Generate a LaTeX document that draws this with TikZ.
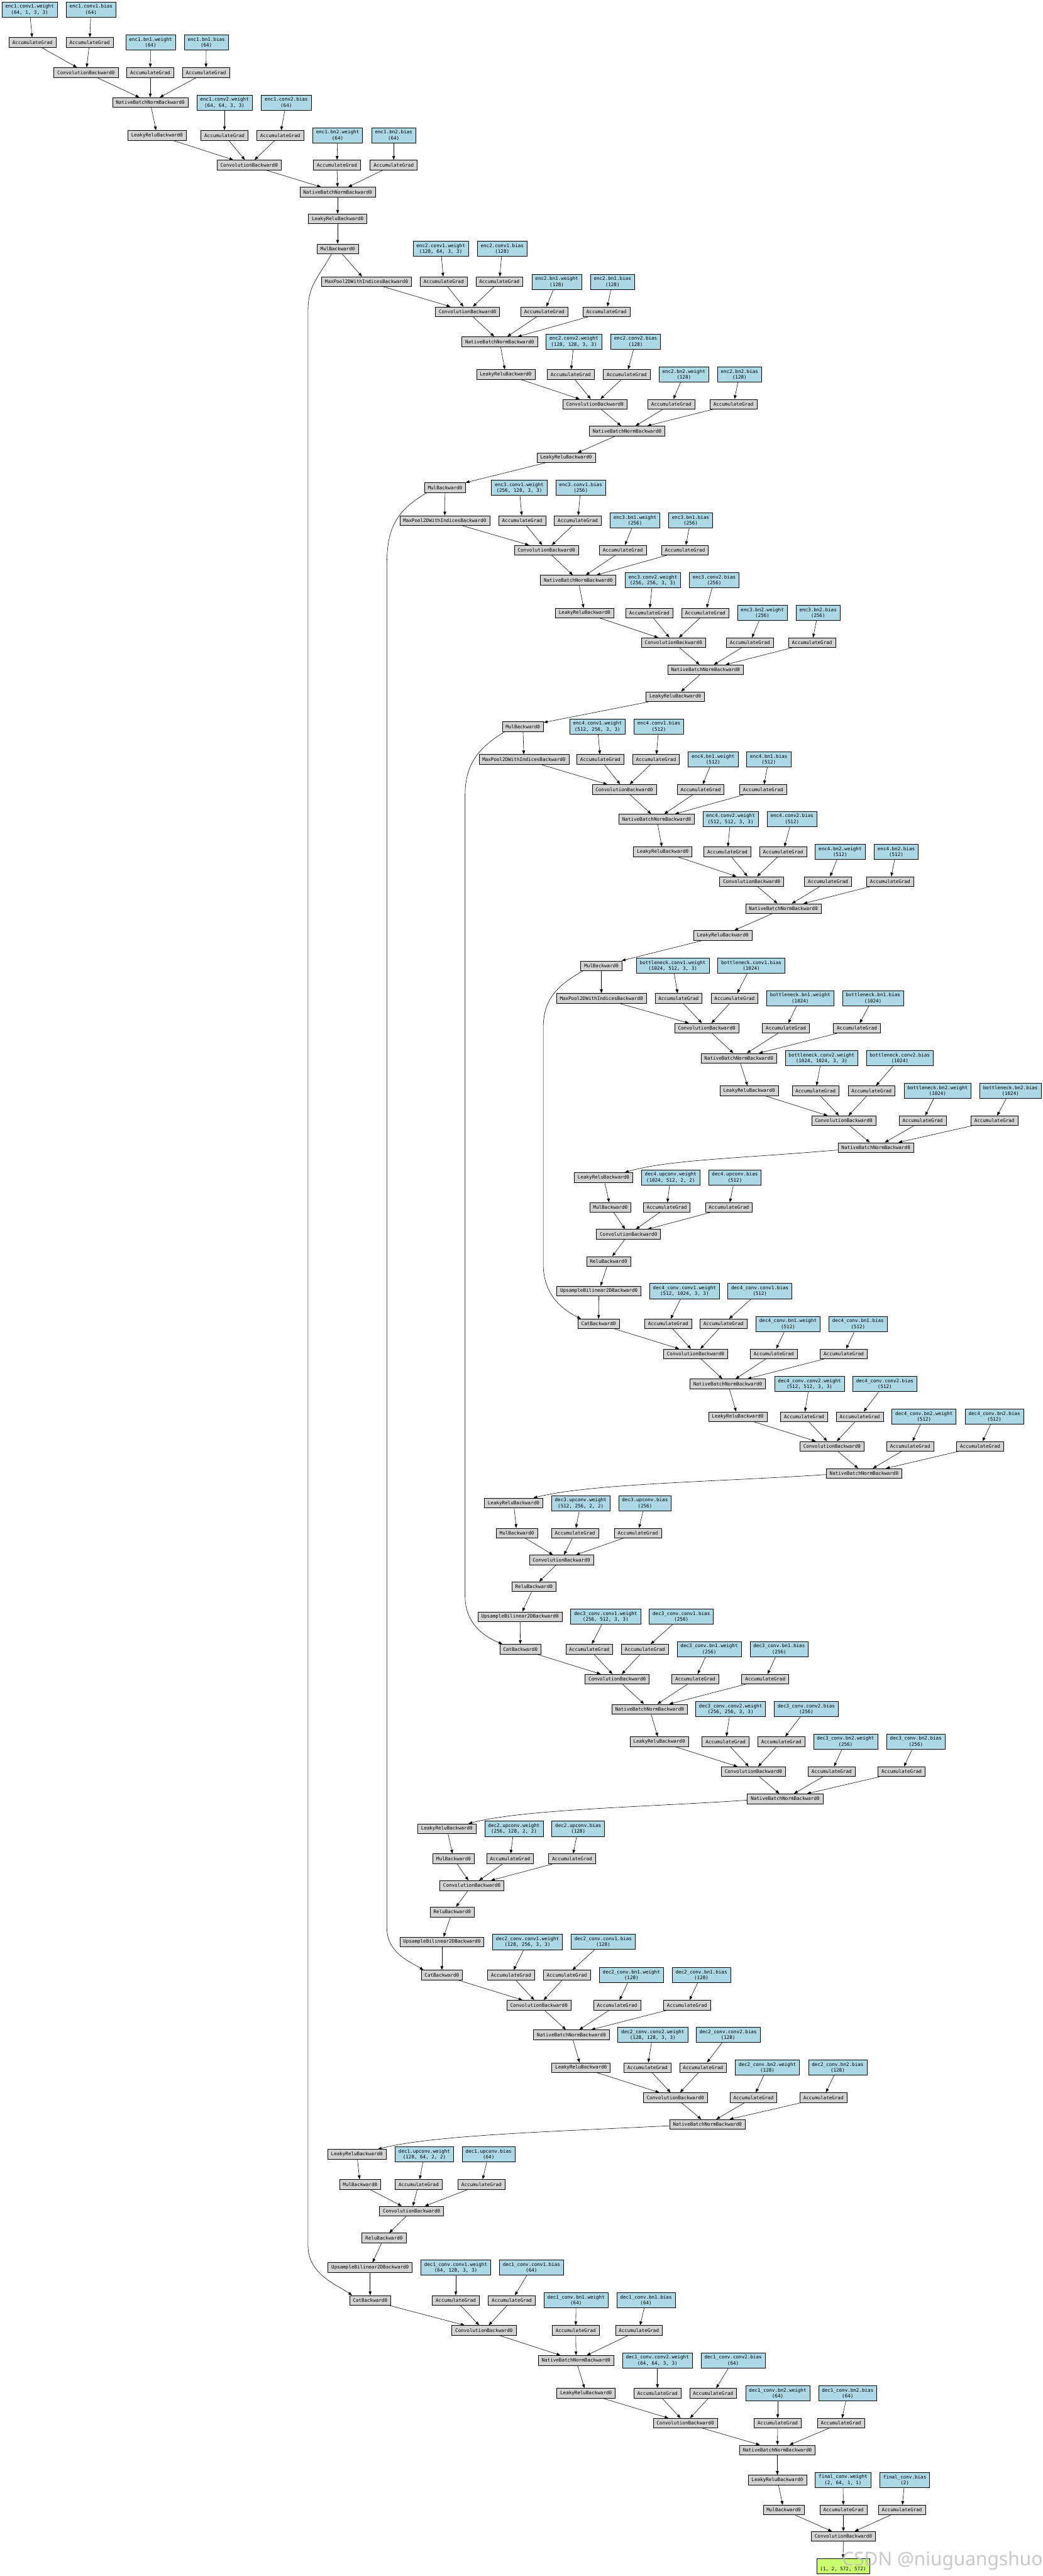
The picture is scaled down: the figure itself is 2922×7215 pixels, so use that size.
\documentclass[tikz,border=0pt]{standalone}
\usepackage{fontspec}
\usetikzlibrary{arrows.meta,calc}
\newfontfamily\gvmono{DejaVu Sans Mono}
\newfontfamily\wmfont{Noto Sans}
\definecolor{parblue}{HTML}{ADD8E6}
\definecolor{opgrey}{HTML}{D3D3D3}
\definecolor{outgreen}{HTML}{CAFF70}
\newcommand{\mkop}[3]{\node[opbox] (#1) at (#2) {#3};}
\newcommand{\mkag}[2]{\node[opbox] (#1) at (#2) {AccumulateGrad};}
\newcommand{\mkpar}[4]{\node[parbox] (#1) at (#2) {#3\\(#4)};}
\tikzset{
  gvbox/.style={draw=black, line width=0.9pt, font=\gvmono\fontsize{10}{12.5}\selectfont, inner xsep=7.2pt, inner ysep=5.2pt, minimum height=20.5pt, align=center},
  opbox/.style={gvbox, fill=opgrey},
  parbox/.style={gvbox, fill=parblue},
  outbox/.style={gvbox, fill=outgreen},
  conn/.style={line width=0.75pt, -{Triangle[length=8pt,width=6pt]}},
}
\begin{document}
\begin{tikzpicture}[x=0.75pt,y=-0.75pt]
\fill[white] (0,0) rectangle (2922,7215);
\useasboundingbox (0,0) rectangle (2922,7215);
% ---------------- enc1
\mkpar{e1w1}{83,27}{enc1.conv1.weight}{64, 1, 3, 3}
\mkpar{e1b1}{255,27}{enc1.conv1.bias}{64}
\mkag{e1aw1}{91,119}
\mkag{e1ab1}{251,119}
\mkpar{e1bn1w}{422,119}{enc1.bn1.weight}{64}
\mkpar{e1bn1b}{578,119}{enc1.bn1.bias}{64}
\mkop{e1c1}{241,203}{ConvolutionBackward0}
\mkag{e1abn1w}{421,203}
\mkag{e1abn1b}{577,203}
\mkop{e1n1}{421,287}{NativeBatchNormBackward0}
\mkpar{e1w2}{629,287}{enc1.conv2.weight}{64, 64, 3, 3}
\mkpar{e1b2}{802,287}{enc1.conv2.bias}{64}
\mkop{e1l1}{440,379}{LeakyReluBackward0}
\mkag{e1aw2}{629,379}
\mkag{e1ab2}{785,379}
\mkpar{e1bn2w}{946,379}{enc1.bn2.weight}{64}
\mkpar{e1bn2b}{1103,379}{enc1.bn2.bias}{64}
\mkop{e1c2}{698,462}{ConvolutionBackward0}
\mkag{e1abn2w}{944,462}
\mkag{e1abn2b}{1103,462}
\mkop{e1n2}{946,538}{NativeBatchNormBackward0}
\mkop{e1l2}{946,613}{LeakyReluBackward0}
\mkop{e1m}{946,697}{MulBackward0}
% ---------------- enc2
\mkpar{e2w1}{1235,697}{enc2.conv1.weight}{128, 64, 3, 3}
\mkpar{e2b1}{1407,697}{enc2.conv1.bias}{128}
\mkop{e2p}{1027,789}{MaxPool2DWithIndicesBackward0}
\mkag{e2aw1}{1243,789}
\mkag{e2ab1}{1399,789}
\mkpar{e2bn1w}{1560,789}{enc2.bn1.weight}{128}
\mkpar{e2bn1b}{1716,789}{enc2.bn1.bias}{128}
\mkop{e2c1}{1310,873}{ConvolutionBackward0}
\mkag{e2abn1w}{1525,873}
\mkag{e2abn1b}{1699,873}
\mkop{e2n1}{1400,957}{NativeBatchNormBackward0}
\mkpar{e2w2}{1608,957}{enc2.conv2.weight}{128, 128, 3, 3}
\mkpar{e2b2}{1781,957}{enc2.conv2.bias}{128}
\mkop{e2l1}{1417,1049}{LeakyReluBackward0}
\mkag{e2aw2}{1599,1049}
\mkag{e2ab2}{1756,1049}
\mkpar{e2bn2w}{1916,1049}{enc2.bn2.weight}{128}
\mkpar{e2bn2b}{2072,1049}{enc2.bn2.bias}{128}
\mkop{e2c2}{1667,1132}{ConvolutionBackward0}
\mkag{e2abn2w}{1881,1132}
\mkag{e2abn2b}{2055,1132}
\mkop{e2n2}{1757,1207}{NativeBatchNormBackward0}
\mkop{e2l2}{1586,1282}{LeakyReluBackward0}
\mkop{e2m}{1247,1366}{MulBackward0}
% ---------------- enc3
\mkpar{e3w1}{1455,1366}{enc3.conv1.weight}{256, 128, 3, 3}
\mkpar{e3b1}{1627,1366}{enc3.conv1.bias}{256}
\mkop{e3p}{1246,1458}{MaxPool2DWithIndicesBackward0}
\mkag{e3aw1}{1463,1458}
\mkag{e3ab1}{1619,1458}
\mkpar{e3bn1w}{1779,1458}{enc3.bn1.weight}{256}
\mkpar{e3bn1b}{1935,1458}{enc3.bn1.bias}{256}
\mkop{e3c1}{1531,1541}{ConvolutionBackward0}
\mkag{e3abn1w}{1745,1541}
\mkag{e3abn1b}{1919,1541}
\mkop{e3n1}{1620,1625}{NativeBatchNormBackward0}
\mkpar{e3w2}{1829,1625}{enc3.conv2.weight}{256, 256, 3, 3}
\mkpar{e3b2}{2001,1625}{enc3.conv2.bias}{256}
\mkop{e3l1}{1638,1717}{LeakyReluBackward0}
\mkag{e3aw2}{1819,1717}
\mkag{e3ab2}{1976,1717}
\mkpar{e3bn2w}{2136,1717}{enc3.bn2.weight}{256}
\mkpar{e3bn2b}{2292,1717}{enc3.bn2.bias}{256}
\mkop{e3c2}{1887,1800}{ConvolutionBackward0}
\mkag{e3abn2w}{2101,1800}
\mkag{e3abn2b}{2275,1800}
\mkop{e3n2}{1977,1876}{NativeBatchNormBackward0}
\mkop{e3l2}{1892,1951}{LeakyReluBackward0}
\mkop{e3m}{1465,2035}{MulBackward0}
% ---------------- enc4
\mkpar{e4w1}{1674,2035}{enc4.conv1.weight}{512, 256, 3, 3}
\mkpar{e4b1}{1846,2035}{enc4.conv1.bias}{512}
\mkop{e4p}{1468,2127}{MaxPool2DWithIndicesBackward0}
\mkag{e4aw1}{1682,2127}
\mkag{e4ab1}{1838,2127}
\mkpar{e4bn1w}{1998,2127}{enc4.bn1.weight}{512}
\mkpar{e4bn1b}{2154,2127}{enc4.bn1.bias}{512}
\mkop{e4c1}{1749,2211}{ConvolutionBackward0}
\mkag{e4abn1w}{1963,2211}
\mkag{e4abn1b}{2138,2211}
\mkop{e4n1}{1840,2294}{NativeBatchNormBackward0}
\mkpar{e4w2}{2047,2294}{enc4.conv2.weight}{512, 512, 3, 3}
\mkpar{e4b2}{2219,2294}{enc4.conv2.bias}{512}
\mkop{e4l1}{1857,2386}{LeakyReluBackward0}
\mkag{e4aw2}{2038,2386}
\mkag{e4ab2}{2194,2386}
\mkpar{e4bn2w}{2354,2386}{enc4.bn2.weight}{512}
\mkpar{e4bn2b}{2511,2386}{enc4.bn2.bias}{512}
\mkop{e4c2}{2106,2469}{ConvolutionBackward0}
\mkag{e4abn2w}{2320,2469}
\mkag{e4abn2b}{2494,2469}
\mkop{e4n2}{2195,2545}{NativeBatchNormBackward0}
\mkop{e4l2}{2025,2620}{LeakyReluBackward0}
\mkop{e4m}{1685,2705}{MulBackward0}
% ---------------- bottleneck
\mkpar{bw1}{1885,2705}{bottleneck.conv1.weight}{1024, 512, 3, 3}
\mkpar{bb1}{2105,2705}{bottleneck.conv1.bias}{1024}
\mkop{bp}{1685,2796}{MaxPool2DWithIndicesBackward0}
\mkag{baw1}{1901,2796}
\mkag{bab1}{2058,2796}
\mkpar{bbn1w}{2242,2796}{bottleneck.bn1.weight}{1024}
\mkpar{bbn1b}{2446,2796}{bottleneck.bn1.bias}{1024}
\mkop{bc1}{1980,2880}{ConvolutionBackward0}
\mkag{babn1w}{2202,2880}
\mkag{babn1b}{2401,2880}
\mkop{bn1}{2070,2964}{NativeBatchNormBackward0}
\mkpar{bw2}{2302,2964}{bottleneck.conv2.weight}{1024, 1024, 3, 3}
\mkpar{bb2}{2521,2964}{bottleneck.conv2.bias}{1024}
\mkop{bl1}{2099,3055}{LeakyReluBackward0}
\mkag{baw2}{2285,3055}
\mkag{bab2}{2442,3055}
\mkpar{bbn2w}{2627,3055}{bottleneck.bn2.weight}{1024}
\mkpar{bbn2b}{2831,3055}{bottleneck.bn2.bias}{1024}
\mkop{bc2}{2364,3139}{ConvolutionBackward0}
\mkag{babn2w}{2585,3139}
\mkag{babn2b}{2786,3139}
\mkop{bn2}{2454,3214}{NativeBatchNormBackward0}
% ---------------- dec4
\mkop{d4l}{1691,3298}{LeakyReluBackward0}
\mkpar{d4uw}{1879,3298}{dec4.upconv.weight}{1024, 512, 2, 2}
\mkpar{d4ub}{2059,3298}{dec4.upconv.bias}{512}
\mkop{d4m}{1710,3382}{MulBackward0}
\mkag{d4auw}{1868,3382}
\mkag{d4aub}{2042,3382}
\mkop{d4cu}{1761,3457}{ConvolutionBackward0}
\mkop{d4r}{1705,3533}{ReluBackward0}
\mkop{d4up}{1678,3616}{UpsampleBilinear2DBackward0}
\mkpar{d4w1}{1918,3616}{dec4\_conv.conv1.weight}{512, 1024, 3, 3}
\mkpar{d4b1}{2129,3616}{dec4\_conv.conv1.bias}{512}
\mkop{d4cat}{1677,3708}{CatBackward0}
\mkag{d4aw1}{1872,3708}
\mkag{d4ab1}{2027,3708}
\mkpar{d4bn1w}{2208,3708}{dec4\_conv.bn1.weight}{512}
\mkpar{d4bn1b}{2404,3708}{dec4\_conv.bn1.bias}{512}
\mkop{d4c1}{1949,3792}{ConvolutionBackward0}
\mkag{d4abn1w}{2168,3792}
\mkag{d4abn1b}{2364,3792}
\mkop{d4n1}{2039,3876}{NativeBatchNormBackward0}
\mkpar{d4w2}{2268,3876}{dec4\_conv.conv2.weight}{512, 512, 3, 3}
\mkpar{d4b2}{2479,3876}{dec4\_conv.conv2.bias}{512}
\mkop{d4l1}{2067,3968}{LeakyReluBackward0}
\mkag{d4aw2}{2253,3968}
\mkag{d4ab2}{2409,3968}
\mkpar{d4bn2w}{2589,3968}{dec4\_conv.bn2.weight}{512}
\mkpar{d4bn2b}{2786,3968}{dec4\_conv.bn2.bias}{512}
\mkop{d4c2}{2331,4051}{ConvolutionBackward0}
\mkag{d4abn2w}{2550,4051}
\mkag{d4abn2b}{2746,4051}
\mkop{d4n2}{2421,4127}{NativeBatchNormBackward0}
% ---------------- dec3
\mkop{d3l}{1439,4210}{LeakyReluBackward0}
\mkpar{d3uw}{1627,4210}{dec3.upconv.weight}{512, 256, 2, 2}
\mkpar{d3ub}{1807,4210}{dec3.upconv.bias}{256}
\mkop{d3m}{1448,4294}{MulBackward0}
\mkag{d3auw}{1611,4294}
\mkag{d3aub}{1787,4294}
\mkop{d3cu}{1573,4369}{ConvolutionBackward0}
\mkop{d3r}{1496,4444}{ReluBackward0}
\mkop{d3up}{1457,4528}{UpsampleBilinear2DBackward0}
\mkpar{d3w1}{1697,4528}{dec3\_conv.conv1.weight}{256, 512, 3, 3}
\mkpar{d3b1}{1909,4528}{dec3\_conv.conv1.bias}{256}
\mkop{d3cat}{1458,4619}{CatBackward0}
\mkag{d3aw1}{1651,4619}
\mkag{d3ab1}{1807,4619}
\mkpar{d3bn1w}{1987,4619}{dec3\_conv.bn1.weight}{256}
\mkpar{d3bn1b}{2183,4619}{dec3\_conv.bn1.bias}{256}
\mkop{d3c1}{1729,4703}{ConvolutionBackward0}
\mkag{d3abn1w}{1948,4703}
\mkag{d3abn1b}{2144,4703}
\mkop{d3n1}{1820,4787}{NativeBatchNormBackward0}
\mkpar{d3w2}{2047,4787}{dec3\_conv.conv2.weight}{256, 256, 3, 3}
\mkpar{d3b2}{2259,4787}{dec3\_conv.conv2.bias}{256}
\mkop{d3l1}{1847,4878}{LeakyReluBackward0}
\mkag{d3aw2}{2033,4878}
\mkag{d3ab2}{2189,4878}
\mkpar{d3bn2w}{2369,4878}{dec3\_conv.bn2.weight}{256}
\mkpar{d3bn2b}{2566,4878}{dec3\_conv.bn2.bias}{256}
\mkop{d3c2}{2111,4962}{ConvolutionBackward0}
\mkag{d3abn2w}{2330,4962}
\mkag{d3abn2b}{2526,4962}
\mkop{d3n2}{2200,5038}{NativeBatchNormBackward0}
% ---------------- dec2
\mkop{d2l}{1252,5122}{LeakyReluBackward0}
\mkpar{d2uw}{1440,5122}{dec2.upconv.weight}{256, 128, 2, 2}
\mkpar{d2ub}{1620,5122}{dec2.upconv.bias}{128}
\mkop{d2m}{1271,5206}{MulBackward0}
\mkag{d2auw}{1429,5206}
\mkag{d2aub}{1603,5206}
\mkop{d2cu}{1322,5281}{ConvolutionBackward0}
\mkop{d2r}{1267,5355}{ReluBackward0}
\mkop{d2up}{1238,5439}{UpsampleBilinear2DBackward0}
\mkpar{d2w1}{1478,5439}{dec2\_conv.conv1.weight}{128, 256, 3, 3}
\mkpar{d2b1}{1690,5439}{dec2\_conv.conv1.bias}{128}
\mkop{d2cat}{1238,5532}{CatBackward0}
\mkag{d2aw1}{1432,5532}
\mkag{d2ab1}{1588,5532}
\mkpar{d2bn1w}{1769,5532}{dec2\_conv.bn1.weight}{128}
\mkpar{d2bn1b}{1965,5532}{dec2\_conv.bn1.bias}{128}
\mkop{d2c1}{1510,5616}{ConvolutionBackward0}
\mkag{d2abn1w}{1729,5616}
\mkag{d2abn1b}{1925,5616}
\mkop{d2n1}{1601,5699}{NativeBatchNormBackward0}
\mkpar{d2w2}{1829,5699}{dec2\_conv.conv2.weight}{128, 128, 3, 3}
\mkpar{d2b2}{2040,5699}{dec2\_conv.conv2.bias}{128}
\mkop{d2l1}{1628,5791}{LeakyReluBackward0}
\mkag{d2aw2}{1814,5791}
\mkag{d2ab2}{1970,5791}
\mkpar{d2bn2w}{2150,5791}{dec2\_conv.bn2.weight}{128}
\mkpar{d2bn2b}{2347,5791}{dec2\_conv.bn2.bias}{128}
\mkop{d2c2}{1892,5875}{ConvolutionBackward0}
\mkag{d2abn2w}{2111,5875}
\mkag{d2abn2b}{2307,5875}
\mkop{d2n2}{1982,5950}{NativeBatchNormBackward0}
% ---------------- dec1
\mkop{d1l}{1000,6034}{LeakyReluBackward0}
\mkpar{d1uw}{1189,6034}{dec1.upconv.weight}{128, 64, 2, 2}
\mkpar{d1ub}{1369,6034}{dec1.upconv.bias}{64}
\mkop{d1m}{1009,6118}{MulBackward0}
\mkag{d1auw}{1173,6118}
\mkag{d1aub}{1349,6118}
\mkop{d1cu}{1153,6193}{ConvolutionBackward0}
\mkop{d1r}{1076,6268}{ReluBackward0}
\mkop{d1up}{1037,6351}{UpsampleBilinear2DBackward0}
\mkpar{d1w1}{1277,6351}{dec1\_conv.conv1.weight}{64, 128, 3, 3}
\mkpar{d1b1}{1489,6351}{dec1\_conv.conv1.bias}{64}
\mkop{d1cat}{1037,6443}{CatBackward0}
\mkag{d1aw1}{1277,6443}
\mkag{d1ab1}{1434,6443}
\mkpar{d1bn1w}{1614,6443}{dec1\_conv.bn1.weight}{64}
\mkpar{d1bn1b}{1810,6443}{dec1\_conv.bn1.bias}{64}
\mkop{d1c1}{1356,6527}{ConvolutionBackward0}
\mkag{d1abn1w}{1613,6527}
\mkag{d1abn1b}{1790,6527}
\mkop{d1n1}{1614,6611}{NativeBatchNormBackward0}
\mkpar{d1w2}{1842,6611}{dec1\_conv.conv2.weight}{64, 64, 3, 3}
\mkpar{d1b2}{2054,6611}{dec1\_conv.conv2.bias}{64}
\mkop{d1l1}{1642,6703}{LeakyReluBackward0}
\mkag{d1aw2}{1842,6703}
\mkag{d1ab2}{1998,6703}
\mkpar{d1bn2w}{2179,6703}{dec1\_conv.bn2.weight}{64}
\mkpar{d1bn2b}{2375,6703}{dec1\_conv.bn2.bias}{64}
\mkop{d1c2}{1920,6787}{ConvolutionBackward0}
\mkag{d1abn2w}{2179,6787}
\mkag{d1abn2b}{2356,6787}
\mkop{d1n2}{2178,6862}{NativeBatchNormBackward0}
% ---------------- final
\mkop{fl}{2178,6946}{LeakyReluBackward0}
\mkpar{fw}{2362,6946}{final\_conv.weight}{2, 64, 1, 1}
\mkpar{fb}{2535,6946}{final\_conv.bias}{2}
\mkop{fm}{2196,7030}{MulBackward0}
\mkag{faw}{2363,7030}
\mkag{fab}{2527,7030}
\mkop{fc}{2363,7104}{ConvolutionBackward0}
\node[outbox] (out) at (2362,7187) {\phantom{(}\\(1, 2, 572, 572)};
% ---------------- edges
\foreach \p in {e1,e2,e3,e4,b,d4,d3,d2,d1}{
  \foreach \src/\dst in {w1/aw1,b1/ab1,aw1/c1,ab1/c1,bn1w/abn1w,bn1b/abn1b,c1/n1,abn1w/n1,abn1b/n1,n1/l1,w2/aw2,b2/ab2,l1/c2,aw2/c2,ab2/c2,bn2w/abn2w,bn2b/abn2b,c2/n2,abn2w/n2,abn2b/n2}
    \draw[conn] (\p\src) -- (\p\dst);
}
\foreach \p in {d4,d3,d2,d1}{
  \foreach \src/\dst in {l/m,uw/auw,ub/aub,m/cu,auw/cu,aub/cu,cu/r,r/up,up/cat,cat/c1}
    \draw[conn] (\p\src) -- (\p\dst);
}
\foreach \src/\dst in {e2p/e2c1,e3p/e3c1,e4p/e4c1,bp/bc1,e1n2/e1l2,e1l2/e1m,e1m/e2p,e2n2/e2l2,e2l2/e2m,e2m/e3p,e3n2/e3l2,e3l2/e3m,e3m/e4p,e4n2/e4l2,e4l2/e4m,e4m/bp,d1n2/fl,fl/fm,fw/faw,fb/fab,fm/fc,faw/fc,fab/fc,fc/out}
  \draw[conn] (\src) -- (\dst);
% long curved edges into the decoders
\draw[conn] ($(bn2.west)+(0,7)$) .. controls +(-300,25) and +(120,-35) .. ($(d4l.north east)+(-23,0)$);
\draw[conn] ($(d4n2.west)+(0,3)$) .. controls +(-300,20) and +(150,-40) .. ($(d3l.north east)+(-27,0)$);
\draw[conn] ($(d3n2.west)+(0,4)$) .. controls +(-300,20) and +(150,-40) .. ($(d2l.north east)+(-22,0)$);
\draw[conn] ($(d2n2.west)+(0,4)$) .. controls +(-300,15) and +(150,-40) .. ($(d1l.north east)+(-24,0)$);
% skip connections
\draw[conn] ($(e1m.south)+(-17,0)$) .. controls (890,780) and (863,800) .. (863,870) -- (863,6290) .. controls (863,6370) and (945,6400) .. ($(d1cat.north west)+(8,0)$);
\draw[conn] ($(e2m.south west)+(7,0)$) .. controls (1110,1430) and (1084,1480) .. (1084,1580) -- (1084,5400) .. controls (1084,5470) and (1150,5495) .. ($(d2cat.north west)+(7,0)$);
\draw[conn] ($(e3m.south west)+(8,0)$) .. controls (1330,2100) and (1303,2150) .. (1303,2230) -- (1303,4470) .. controls (1303,4550) and (1360,4585) .. ($(d3cat.north west)+(8,0)$);
\draw[conn] ($(e4m.south west)+(7,0)$) .. controls (1560,2760) and (1522,2800) .. (1522,2880) -- (1522,3540) .. controls (1522,3630) and (1580,3670) .. ($(d4cat.north west)+(9,0)$);
% watermark
\node[font=\wmfont\fontsize{39.5}{42}\selectfont, text=gray!50, text opacity=0.85, anchor=base west, inner sep=0pt] (wm) at (2359,7185) {CSDN @niuguangshuo};
\end{tikzpicture}
\end{document}
